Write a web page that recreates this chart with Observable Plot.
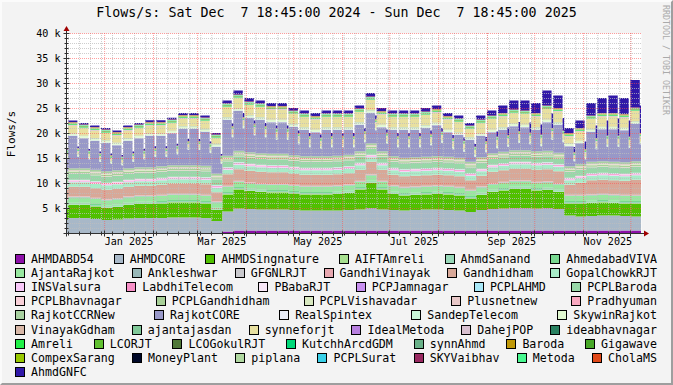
<!DOCTYPE html>
<html><head><meta charset="utf-8">
<script src="https://cdn.jsdelivr.net/npm/d3@7"></script>
<script src="https://cdn.jsdelivr.net/npm/@observablehq/plot@0.6"></script>
<style>
html,body{margin:0;padding:0;background:#f3f3f3;}
#wrap{position:relative;width:673px;height:385px;background:#f3f3f3;overflow:hidden;font-family:"DejaVu Sans Mono",monospace;color:#000;}
#chart{position:absolute;left:0;top:0;}
#title{position:absolute;left:0;top:5px;width:673px;text-align:center;font-size:13.3px;white-space:pre;}
#ylab{position:absolute;left:11px;top:134px;transform:translate(-50%,-50%) rotate(-90deg);font-size:11px;white-space:nowrap;}
#wm{position:absolute;left:671px;top:5px;transform-origin:0 0;transform:rotate(90deg);font-size:8.3px;color:#aaaaaa;white-space:nowrap;}
#legend{position:absolute;left:15px;top:251.6px;width:642px;font-size:11.6px;}
.row{display:flex;justify-content:space-between;height:14.2px;align-items:center;}
.row.last{justify-content:flex-start;}
.item{display:flex;align-items:center;white-space:nowrap;}
.sw{width:8px;height:8px;border:1px solid #000;margin-right:6px;flex:none;}
#edge{position:absolute;left:0;top:0;width:673px;height:385px;box-sizing:border-box;border-top:2px solid #fbfbfb;border-left:2px solid #fbfbfb;border-right:2px solid #9e9e9e;border-bottom:2px solid #9e9e9e;pointer-events:none;}
</style>
</head><body>
<div id="wrap">
  <div id="chart"></div>
  <div id="title"></div>
  <div id="ylab">Flows/s</div>
  <div id="wm">RRDTOOL / TOBI OETIKER</div>
  <div id="legend"></div>
  <div id="edge"></div>
</div>
<script>
const titleText = "Flows/s: Sat Dec  7 18:45:00 2024 - Sun Dec  7 18:45:00 2025";

const names = ["AHMDABD54","AHMDCORE","AHMDSingnature","AIFTAmreli","AhmdSanand","AhmedabadVIVA",
"AjantaRajkot","Ankleshwar","GFGNLRJT","GandhiVinayak","Gandhidham","GopalChowkRJT",
"INSValsura","LabdhiTelecom","PBabaRJT","PCPJamnagar","PCPLAHMD","PCPLBaroda",
"PCPLBhavnagar","PCPLGandhidham","PCPLVishavadar","Plusnetnew","Pradhyuman",
"RajkotCCRNew","RajkotCORE","RealSpintex","SandepTelecom","SkywinRajkot",
"VinayakGdham","ajantajasdan","synneforjt","IdealMetoda","DahejPOP","ideabhavnagar",
"Amreli","LCORJT","LCOGokulRJT","KutchhArcdGDM","synnAhmd","Baroda","Gigawave",
"CompexSarang","MoneyPlant","piplana","PCPLSurat","SKYVaibhav","Metoda","CholaMS",
"AhmdGNFC"];
const colors = ["#8C10A8","#A8B8C8","#50C000","#A8E090","#98D8B8","#78D890",
"#98E8A0","#98B8B8","#C8C8CC","#E8A8B0","#D8A898","#A8ECC8",
"#F8C8F8","#F890C8","#F8E8F8","#C890F0","#A8E8F8","#98D8A8",
"#F8D0D8","#A8D098","#D8E8C0","#E8C8C8","#F8A8C0",
"#A8D0A0","#9898C8","#E8ECF8","#C8F8D8","#E0F8D0",
"#D8B8A8","#80C898","#E8E0A0","#B880E0","#D8C0D0","#288060",
"#20F048","#60C030","#507838","#00D878","#68B088","#C09808","#48A828",
"#98C800","#000828","#B0D8A0","#38D0E8","#982860","#48F890","#E04818",
"#3018A8"];
const legendRowSizes = [6,6,6,5,5,6,7,7,1];

// typical level (k flows/s) of the thin bands, null = weekly series below
const levels = [null,null,null,0.1,0.2,0.2,
1.0,0.1,0.05,0.1,null,0.9,
0.2,0.15,0.08,0.02,0.05,1.2,
0.1,0.3,0.15,0.1,0.05,
0.4,null,0.03,0.08,0.35,
0.03,0.08,null,0.03,0.03,0.02,
0.08,0.05,0.02,0.05,0.02,0.02,0.05,
0.04,0.01,0.05,0.05,0.02,0.04,0.08,
null];

// weekly values (k), weeks starting Monday 2 Dec 2024 (Mon-Sat block, then Sunday)
const ahmdabd54Wk = [0,0,0,0,0,0,0,0,0,0,0,0,0,0,0,0.3,0.5,0.5,0.5,0.5,0.5,0.5,0.5,0.5,0.5,0.5,0.5,0.5,0.5,0.5,0.5,0.5,0.5,0.5,0.5,0.5,0.5,0.5,0.5,0.5,0.5,0.5,0.5,0.5,0.5,0.5,0.5,0.5,0.5,0.5,0.5,0.5,0.5];
const ahmdcoreWk = [2.6,3.0,3.0,2.8,2.6,2.7,2.9,3.0,3.0,3.0,3.1,3.1,3.1,3.0,2.4,4.0,4.4,4.3,4.2,4.2,4.2,4.1,4.0,4.0,4.0,4.0,4.1,4.2,4.5,4.2,4.1,4.0,4.1,4.2,4.2,4.1,4.0,3.7,4.1,4.3,4.4,4.5,4.5,4.4,4.5,4.3,3.0,2.8,2.9,3.0,3.0,2.9,2.8];
const singnatureWk = [2.4,2.6,2.6,2.5,2.4,2.5,2.7,2.8,2.8,2.9,3.0,3.0,3.0,2.9,2.2,3.4,3.8,3.6,3.5,3.4,3.4,3.3,3.2,3.2,3.2,3.3,3.4,4.0,5.0,4.0,3.2,3.0,3.0,3.0,3.1,3.1,3.0,2.7,3.0,3.4,3.6,3.8,3.8,3.6,3.6,3.4,2.4,2.6,2.6,2.6,2.5,2.5,2.6];
const gandhidhamWk = [1.9,1.9,1.9,1.9,1.9,1.9,1.9,1.9,1.9,2.0,2.0,2.0,2.0,2.1,1.8,2.3,2.3,2.3,2.3,2.3,2.3,2.2,2.2,2.2,2.2,2.2,2.2,2.2,2.5,2.2,2.1,2.1,2.1,2.1,2.1,2.1,2.1,1.9,2.1,2.3,2.3,2.3,2.3,2.4,2.4,2.4,2.0,2.4,2.8,2.8,2.8,2.8,3.0];
const rajkotCoreWk = [2.6,6.5,6.0,5.8,5.7,5.0,5.5,5.8,6.3,6.1,6.4,7.3,7.3,6.8,5.4,7.2,8.0,6.9,6.7,6.3,6.3,5.7,5.3,4.8,5.3,5.2,5.0,5.3,6.1,4.8,5.3,5.6,5.5,5.8,6.2,4.9,4.6,4.4,4.3,4.2,4.4,4.8,4.6,4.3,5.7,5.6,4.0,4.2,6.0,6.4,6.5,6.4,7.5];
const rajkotCoreSun = [2.6,2.3,1.8,1.6,1.5,1.0,1.3,1.6,2.1,1.9,2.2,3.1,3.1,2.6,2.0,3.7,4.5,3.4,3.2,2.8,2.8,2.2,1.8,1.5,1.8,1.7,1.5,1.8,2.6,1.5,1.8,2.1,2.0,2.3,2.7,1.5,1.2,1.0,1.0,1.0,1.0,1.5,1.2,1.0,2.2,2.1,1.0,1.0,2.5,2.9,3.0,2.9,3.4];
const synneforjtWk = [1.5,1.5,1.5,1.5,1.4,1.4,1.5,1.5,1.5,1.5,1.5,1.5,1.5,1.6,1.2,2.0,2.0,2.0,2.0,2.0,2.0,2.0,2.0,2.0,2.0,2.0,2.0,2.0,2.0,2.0,2.0,2.0,2.0,2.0,2.0,2.0,2.0,1.6,2.0,2.1,2.1,2.1,2.1,2.1,2.1,2.1,1.4,1.8,2.0,2.0,2.0,2.0,2.0];
const synneforjtSun = [0.5,0.5,0.5,0.5,0.5,0.5,0.5,0.5,0.5,0.5,0.5,0.5,0.5,0.6,0.4,1.0,1.0,1.0,1.0,1.0,1.0,1.0,1.0,1.0,1.0,1.0,1.0,1.0,1.0,1.0,1.0,1.0,1.0,1.0,1.0,1.0,1.0,0.8,1.0,1.1,1.1,1.1,1.1,1.1,1.1,1.1,0.6,0.8,1.0,1.0,1.0,1.0,1.0];
const ahmdGnfcWk = [0.3,0.3,0.3,0.3,0.3,0.3,0.3,0.3,0.35,0.35,0.35,0.4,0.4,0.4,0.3,0.6,0.8,0.7,0.6,0.6,0.6,0.5,0.6,0.6,0.6,0.6,0.6,0.6,0.7,0.6,0.6,0.6,0.6,0.7,0.7,0.6,0.6,0.5,0.8,1.0,1.5,1.8,2.0,2.0,3.0,2.5,1.0,1.5,2.5,3.0,3.5,3.2,5.5];

const yTicks = [5000,10000,15000,20000,25000,30000,35000,40000];
const yTickLabels = ["5 k","10 k","15 k","20 k","25 k","30 k","35 k","40 k"];
const xLabelDates = [[2025,0],[2025,2],[2025,4],[2025,6],[2025,8],[2025,10]];
const xTickLabels = ["Jan 2025","Mar 2025","May 2025","Jul 2025","Sep 2025","Nov 2025"];

const weeklyWd = {AHMDABD54: ahmdabd54Wk, AHMDCORE: ahmdcoreWk, AHMDSingnature: singnatureWk,
  Gandhidham: gandhidhamWk, RajkotCORE: rajkotCoreWk, synneforjt: synneforjtWk, AhmdGNFC: ahmdGnfcWk};
const weeklySun = {RajkotCORE: rajkotCoreSun, synneforjt: synneforjtSun};

function val(k, i, sunday) {
  const n = names[k];
  if (weeklyWd[n]) {
    const arr = (sunday && weeklySun[n]) ? weeklySun[n] : weeklyWd[n];
    return arr[i] * 1000;
  }
  return levels[k] * 1000;
}
const rows = [];
function push(t, i, sunday) { names.forEach((n, k) => rows.push({t, s: n, v: val(k, i, sunday)})); }
for (let i = 0; i < ahmdcoreWk.length; i++) {
  push(new Date(Date.UTC(2024, 11, 2 + 7 * i)), i, false);
  push(new Date(Date.UTC(2024, 11, 8 + 7 * i)), i, true);
}
push(new Date(Date.UTC(2025, 11, 9)), ahmdcoreWk.length - 1, true);

const x0 = new Date(Date.UTC(2024, 11, 7, 18, 45));
const x1 = new Date(Date.UTC(2025, 11, 7, 18, 45));
const yMax = 40000;
const yMinor = d3.range(1000, 40001, 1000).filter(v => v % 5000 !== 0);
const xMonths = d3.utcMonth.range(x0, x1);
const xWeeks = d3.utcMonday.range(x0, x1);
const xLabels = xLabelDates.map(([y, m]) => new Date(Date.UTC(y, m, 1)));

const axisColor = "#303030";
const arrowColor = "#a00000";

function decor(index, scales) {
  const X = scales.x, Y = scales.y;
  const L = Math.round(X(x0)) + 0.5, R = Math.round(X(x1)), B = Math.round(Y(0)) + 0.5, T = Math.round(Y(yMax));
  const g = d3.create("svg:g");
  const line = (a, b, c, d) => g.append("line").attr("x1", a).attr("y1", b).attr("x2", c).attr("y2", d).attr("stroke", axisColor).attr("stroke-width", 1);
  yMinor.forEach(v => { const y = Math.round(Y(v)) + 0.5; line(L - 2, y, L + 2, y); });
  yTicks.forEach(v => { const y = Math.round(Y(v)) + 0.5; line(L - 3, y, L + 3, y); });
  xWeeks.forEach(d => { const x = Math.round(X(d)) + 0.5; line(x, B - 2, x, B + 2); });
  xMonths.forEach(d => { const x = Math.round(X(d)) + 0.5; line(x, B - 3, x, B + 3); });
  line(L, B + 3, L, T - 2);
  line(L - 3, B, R + 3, B);
  g.append("path").attr("d", `M${L - 3},${T - 2}L${L + 3},${T - 2}L${L},${T - 7}Z`).attr("fill", arrowColor);
  g.append("path").attr("d", `M${R + 3},${B - 3}L${R + 3},${B + 3}L${R + 8},${B}Z`).attr("fill", arrowColor);
  return g.node();
}

const chart = Plot.plot({
  width: 673, height: 250,
  marginLeft: 66, marginRight: 32, marginTop: 33, marginBottom: 17,
  style: {background: "transparent", fontFamily: "'DejaVu Sans Mono', monospace", fontSize: "10.1px", color: "#000", overflow: "visible"},
  x: {type: "utc", domain: [x0, x1], axis: null},
  y: {domain: [0, yMax], axis: null},
  color: {domain: names, range: colors},
  marks: [
    Plot.frame({fill: "#ffffff", stroke: null}),
    Plot.areaY(rows, {x: "t", y: "v", z: "s", fill: "s", curve: "step-after", clip: true}),
    Plot.ruleY(yMinor, {stroke: "#bdbdbd", strokeOpacity: 0.75, strokeDasharray: "1,1"}),
    Plot.ruleX(xWeeks, {stroke: "#bdbdbd", strokeOpacity: 0.75, strokeDasharray: "1,1"}),
    Plot.ruleY(yTicks, {stroke: "#ff5050", strokeOpacity: 0.55, strokeDasharray: "1,1"}),
    Plot.ruleX(xMonths, {stroke: "#ff5050", strokeOpacity: 0.55, strokeDasharray: "1,1"}),
    decor,
    Plot.text(yTicks, {x: () => x0, y: d => d, text: (d, i) => yTickLabels[i], textAnchor: "end", dx: -6, fill: "#000"}),
    Plot.text(xLabels, {x: d => d, y: () => 0, text: (d, i) => xTickLabels[i], textAnchor: "start", lineAnchor: "top", dy: 4, dx: 0, fill: "#000"})
  ]
});
document.getElementById("chart").appendChild(chart);
document.getElementById("title").textContent = titleText;

const legend = document.getElementById("legend");
let k = 0;
legendRowSizes.forEach((n, r) => {
  const row = document.createElement("div");
  row.className = "row" + (r === legendRowSizes.length - 1 ? " last" : "");
  for (let j = 0; j < n; j++, k++) {
    const it = document.createElement("div");
    it.className = "item";
    const sw = document.createElement("span");
    sw.className = "sw";
    sw.style.background = colors[k];
    const tx = document.createElement("span");
    tx.textContent = names[k];
    it.appendChild(sw); it.appendChild(tx);
    row.appendChild(it);
  }
  legend.appendChild(row);
});
</script>
</body></html>
